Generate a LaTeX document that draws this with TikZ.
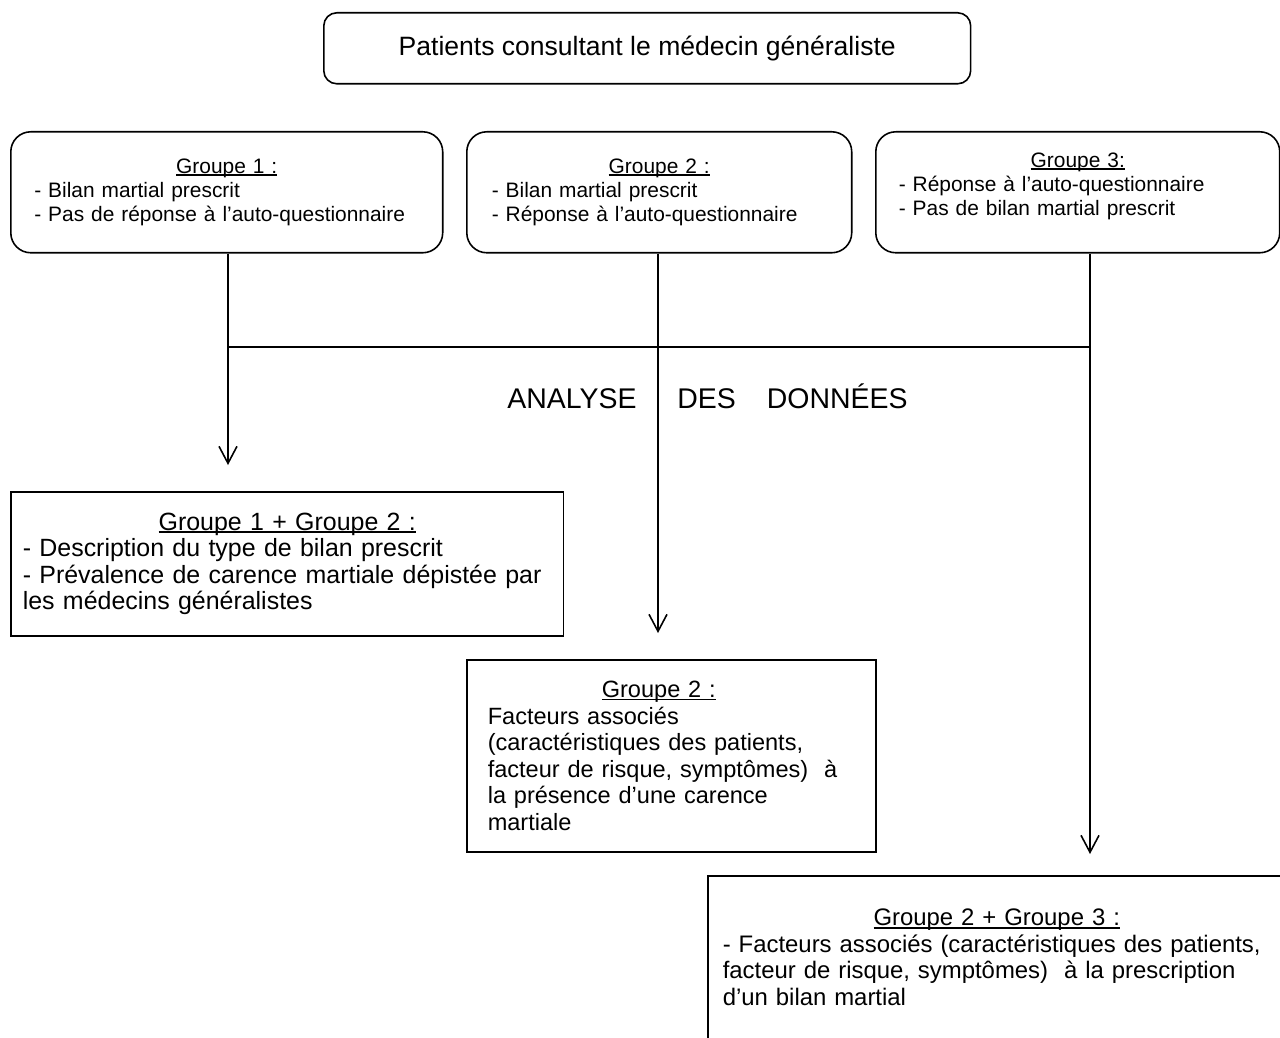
\documentclass[tikz,border=0pt]{standalone}
\usepackage{fontspec}
\setmainfont{Liberation Sans}
\usetikzlibrary{positioning,arrows.meta}

% soulignement a la Word (trait proche de la ligne de base)
\newcommand{\souligne}[1]{\setbox0=\hbox{#1}\rlap{\rule[-0.12em]{\wd0}{0.07em}}\box0}

\begin{document}
\begin{tikzpicture}[
    x=0.02cm, y=-0.02cm,
    every node/.style={inner sep=0pt},
    groupFont/.style={font=\fontsize{11.9}{13.8}\selectfont},
    resultFont/.style={font=\fontsize{13.5}{15.1}\selectfont},
    roundBox/.style={draw, line width=0.9pt, rounded corners=0.4cm, anchor=north west, align=left, groupFont},
    squareBox/.style={draw, line width=0.9pt, anchor=north west, align=left, resultFont},
    linkLine/.style={line width=0.9pt},
    arrowLine/.style={linkLine, -{Straight Barb[length=0.34cm, width=0.36cm]}}
]
    \useasboundingbox (0,0) rectangle (1280,1037);
    \clip (0,0) rectangle (1280,1037);

    % Population
    \node[draw, line width=0.9pt, rounded corners=0.26cm, anchor=north west, minimum width=12.94cm, minimum height=1.42cm, font=\fontsize{15.1}{17}\selectfont] (patients) at (323,12) {Patients consultant le médecin généraliste};

    % Les trois groupes
    \node[roundBox, minimum height=2.42cm, text width=7.7cm, inner xsep=0.47cm] (groupOne) at (10,131) {
        \makebox[\linewidth]{\souligne{Groupe 1 :}}\\
        - Bilan martial prescrit\\
        - Pas de réponse à l’auto-questionnaire};
    \node[roundBox, minimum height=2.42cm, text width=6.7cm, inner xsep=0.5cm] (groupTwo) at (466,131) {
        \makebox[\linewidth]{\souligne{Groupe 2 :}}\\
        - Bilan martial prescrit\\
        - Réponse à l’auto-questionnaire};
    \node[roundBox, minimum height=2.42cm, text width=7.16cm, inner xsep=0.46cm] (groupThree) at (875,131) {
        \makebox[\linewidth]{\souligne{Groupe 3:}}\\
        - Réponse à l’auto-questionnaire\\
        - Pas de bilan martial prescrit\rule[-0.32cm]{0pt}{0.32cm}};

    % Barre de regroupement
    \coordinate (barLeft) at (228,347);
    \coordinate (barMid) at (658,347);
    \coordinate (barRight) at (1090,347);
    \draw[linkLine] (groupOne.south -| barLeft) -- (barLeft);
    \draw[linkLine] (groupTwo.south -| barMid) -- (barMid);
    \draw[linkLine] (groupThree.south -| barRight) -- (barRight);
    \draw[linkLine] (barLeft) -- (barRight);

    % Titre de l'analyse
    \node[anchor=base east, font=\fontsize{16.2}{19}\selectfont] (analyseLabel) at (637,408) {ANALYSE};
    \node[anchor=base west, font=\fontsize{16.2}{19}\selectfont] (donneesLabel) at (677,408) {DES\hspace{0.62cm}DONNÉES};

    % Resultats
    \node[squareBox, minimum height=2.88cm, text width=10.58cm, inner xsep=0.24cm, font=\fontsize{14.2}{15.1}\selectfont] (resultOneTwo) at (10,491) {
        \makebox[\linewidth]{\souligne{Groupe 1 + Groupe 2 :}}\\
        - Description du type de bilan prescrit\\
        - Prévalence de carence martiale dépistée par\\
        les médecins généralistes};
    \node[squareBox, minimum height=3.84cm, text width=7.34cm, inner xsep=0.42cm, font=\fontsize{13.4}{15.1}\selectfont] (resultTwo) at (466,659) {
        \makebox[6.84cm]{\souligne{Groupe 2 :}}\\
        Facteurs associés\\
        (caractéristiques des patients,\\
        facteur de risque, symptômes)\ \ à\\
        la présence d’une carence\\
        martiale};
    \node[squareBox, minimum height=3.26cm, text width=10.96cm, inner xsep=0.3cm, font=\fontsize{13.6}{15.1}\selectfont] (resultTwoThree) at (707,875) {
        \makebox[\linewidth]{\souligne{Groupe 2 + Groupe 3 :}}\\
        - Facteurs associés (caractéristiques des patients,\\
        facteur de risque, symptômes)\ \ à la prescription\\
        d’un bilan martial};

    % Fleches vers les resultats
    \draw[arrowLine, shorten >=0.52cm] (barLeft) -- (resultOneTwo.north -| barLeft);
    \draw[arrowLine, shorten >=0.52cm] (barMid) -- (resultTwo.north -| barMid);
    \draw[arrowLine, shorten >=0.42cm] (barRight) -- (resultTwoThree.north -| barRight);
\end{tikzpicture}
\end{document}
